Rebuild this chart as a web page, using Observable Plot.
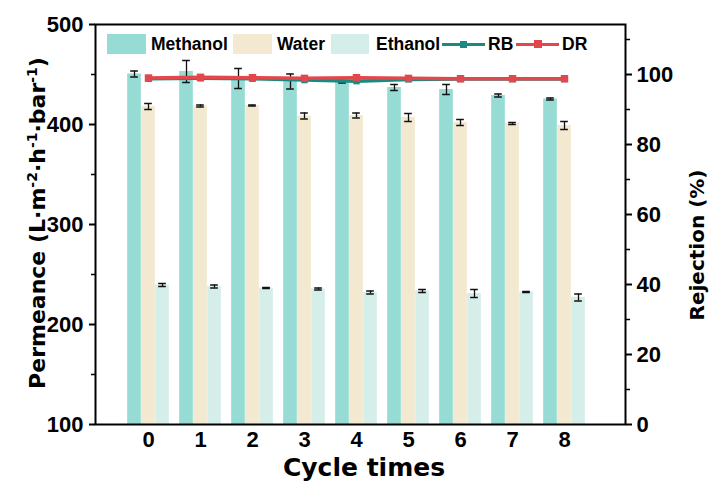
<!DOCTYPE html>
<html>
<head>
<meta charset="utf-8">
<script src="https://cdn.jsdelivr.net/npm/d3@7"></script>
<script src="https://cdn.jsdelivr.net/npm/@observablehq/plot@0.6"></script>
<style>
  html, body { margin: 0; padding: 0; background: #fff; }
  #wrap { position: relative; width: 711px; height: 485px; font-family: "Liberation Sans", Arial, sans-serif; }
  .lbl { position: absolute; font-weight: bold; color: #000; white-space: nowrap; }
  .ttl { font-family: "DejaVu Sans", sans-serif; }
  .sw { position: absolute; }
</style>
</head>
<body>
<div id="wrap"></div>
<script>
// ---- data ----
const cycles = ["0", "1", "2", "3", "4", "5", "6", "7", "8"];
const methanol    = [450.5, 453, 446, 443, 443, 437, 435, 429, 425.5];
const methanolErr = [3, 11, 10, 7.5, 1.5, 3, 5, 1.5, 1];
const water       = [418, 418.5, 419, 408.5, 409, 407, 402, 401, 399];
const waterErr    = [3, 1, 0.5, 3, 2.5, 4, 3, 1, 4];
const ethanol     = [239.5, 238, 236.5, 235.5, 232, 233.5, 231, 232.5, 227];
const ethanolErr  = [1.5, 1.5, 0.5, 1, 1.5, 1.5, 4, 0.5, 3.5];
const rbRejection = [98.8, 98.9, 98.8, 98.4, 98.1, 98.6, 98.7, 98.7, 98.7];
const drRejection = [99.0, 99.2, 99.1, 98.9, 99.1, 98.9, 98.8, 98.8, 98.8];
const leftTicks  = [100, 200, 300, 400, 500];
const leftMinor  = [150, 250, 350, 450];
const rightTicks = [0, 20, 40, 60, 80, 100];
const rightMinor = [10, 30, 50, 70, 90, 110];

const colors = {Methanol: "#96dcd4", Water: "#f3e9d1", Ethanol: "#d5eeea", RB: "#1a8a80", DR: "#e2474b"};

// right axis (rejection %) mapped onto the permeance scale
const leftMin = 100, leftMax = 500, rightMax = 114.29;
const toLeft = r => leftMin + r * (leftMax - leftMin) / rightMax;
const fromLeft = v => (v - leftMin) * rightMax / (leftMax - leftMin);

const series = [
  {name: "Methanol", vals: methanol, errs: methanolErr, off: -14},
  {name: "Water", vals: water, errs: waterErr, off: 0},
  {name: "Ethanol", vals: ethanol, errs: ethanolErr, off: 14}
];
const tables = series.map(s => cycles.map((c, i) => ({cycle: c, v: s.vals[i], e: s.errs[i]})));
const rbData = cycles.map((c, i) => ({cycle: c, r: rbRejection[i]}));
const drData = cycles.map((c, i) => ({cycle: c, r: drRejection[i]}));

const xr = [120, 591];
const bw = (xr[1] - xr[0]) / cycles.length;
const barW = 14;
const capW = 8;

const marks = [];
series.forEach((s, k) => {
  const center = bw / 2 + s.off;
  marks.push(Plot.barY(tables[k], {
    x: "cycle", y1: leftMin, y2: "v", fill: colors[s.name],
    insetLeft: center - barW / 2, insetRight: bw - center - barW / 2
  }));
});
series.forEach((s, k) => {
  marks.push(Plot.ruleX(tables[k], {x: "cycle", y1: d => d.v - d.e, y2: d => d.v + d.e, dx: s.off, stroke: "#111", strokeWidth: 1.3}));
  marks.push(Plot.tickY(tables[k], {x: "cycle", y: d => d.v + d.e, dx: s.off, insetLeft: (bw - capW) / 2, insetRight: (bw - capW) / 2, stroke: "#111", strokeWidth: 1.5}));
  marks.push(Plot.tickY(tables[k], {x: "cycle", y: d => d.v - d.e, dx: s.off, insetLeft: (bw - capW) / 2, insetRight: (bw - capW) / 2, stroke: "#111", strokeWidth: 1.5}));
});
marks.push(Plot.line(rbData, {x: "cycle", y: d => toLeft(d.r), stroke: colors.RB, strokeWidth: 3.5}));
marks.push(Plot.dot(rbData, {x: "cycle", y: d => toLeft(d.r), symbol: "square", r: 3.6, fill: colors.RB}));
marks.push(Plot.line(drData, {x: "cycle", y: d => toLeft(d.r), stroke: colors.DR, strokeWidth: 3.5}));
marks.push(Plot.dot(drData, {x: "cycle", y: d => toLeft(d.r), symbol: "square", r: 4.2, fill: colors.DR}));

marks.push(Plot.axisY(leftTicks, {anchor: "left", tickSize: 6, tickPadding: 6, strokeWidth: 2, label: null}));
marks.push(Plot.axisY(leftMinor, {anchor: "left", tickSize: 4, tickFormat: () => "", strokeWidth: 1.5, label: null}));
marks.push(Plot.axisY(rightTicks.map(toLeft), {anchor: "right", tickSize: 6, tickPadding: 5, strokeWidth: 2, tickFormat: v => String(Math.round(fromLeft(v))), label: null}));
marks.push(Plot.axisY(rightMinor.map(toLeft), {anchor: "right", tickSize: 4, tickFormat: () => "", strokeWidth: 1.5, label: null}));
marks.push(Plot.axisX({tickSize: 0, tickPadding: 7, label: null}));
marks.push(Plot.frame({stroke: "#000", strokeWidth: 2}));

const chart = Plot.plot({
  width: 711, height: 485,
  marginLeft: 95, marginRight: 86, marginTop: 24, marginBottom: 61,
  style: {fontFamily: "Liberation Sans, Arial, sans-serif", fontSize: "22px", fontWeight: "bold", color: "#000", background: "#fff"},
  x: {domain: cycles, range: xr, padding: 0, axis: null},
  y: {domain: [leftMin, leftMax], axis: null},
  marks
});

const wrap = document.getElementById("wrap");
chart.style.position = "absolute";
chart.style.left = "0"; chart.style.top = "0";
wrap.appendChild(chart);

function addLabel(text, css, html, cls) {
  const d = document.createElement("div");
  d.className = "lbl" + (cls ? " " + cls : "");
  if (html) d.innerHTML = text; else d.textContent = text;
  Object.assign(d.style, css);
  wrap.appendChild(d);
  return d;
}
// axis titles
const sup = t => "<sup style='font-size:14px;vertical-align:0.55em;line-height:0'>" + t + "</sup>";
addLabel("Permeance (L·m" + sup("-2") + "·h" + sup("-1") + "·bar" + sup("-1") + ")",
  {left: "37px", top: "223px", fontSize: "22px", transform: "translate(-50%,-50%) rotate(-90deg)"}, true, "ttl");
addLabel("Rejection (%)", {left: "697px", top: "245px", fontSize: "20px", transform: "translate(-50%,-50%) rotate(-90deg)"}, false, "ttl");
addLabel("Cycle times", {left: "364px", top: "467px", fontSize: "25px", transform: "translate(-50%,-50%)"}, false, "ttl");

// legend
const legendY = 44;
function swatch(name, x, w) {
  const s = document.createElement("div");
  s.className = "sw";
  Object.assign(s.style, {left: x + "px", top: (legendY - 10) + "px", width: w + "px", height: "20px", background: colors[name]});
  wrap.appendChild(s);
}
function lineSwatch(name, x, w, m) {
  const l = document.createElement("div");
  l.className = "sw";
  Object.assign(l.style, {left: x + "px", top: (legendY - 1.5) + "px", width: w + "px", height: "3.5px", background: colors[name]});
  wrap.appendChild(l);
  const q = document.createElement("div");
  q.className = "sw";
  Object.assign(q.style, {left: (x + w / 2 - m / 2) + "px", top: (legendY - m / 2 + 0.3) + "px", width: m + "px", height: m + "px", background: colors[name]});
  wrap.appendChild(q);
}
function legText(t, x) {
  addLabel(t, {left: x + "px", top: legendY + "px", fontSize: "17.5px", transform: "translate(0,-50%)"});
}
swatch("Methanol", 107, 39); legText("Methanol", 151);
swatch("Water", 233, 39); legText("Water", 277);
swatch("Ethanol", 331, 38); legText("Ethanol", 376);
lineSwatch("RB", 442, 43, 7); legText("RB", 488);
lineSwatch("DR", 516, 43, 8); legText("DR", 562);
</script>
</body>
</html>
